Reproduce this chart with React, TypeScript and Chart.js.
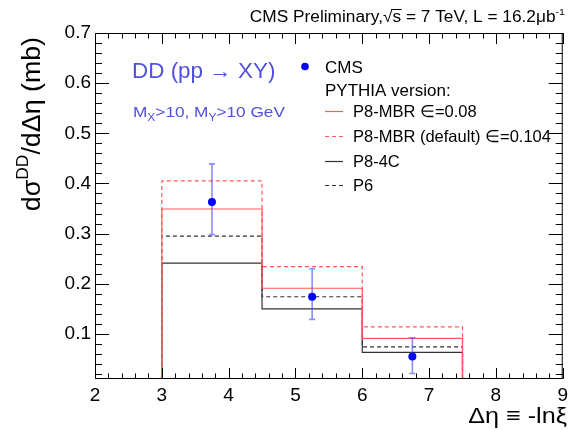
import React, { useEffect, useRef } from "react";
import { Chart, registerables } from "chart.js";

Chart.register(...registerables);

// ---------------- data ----------------
const binEdges = [3, 4.5, 6, 7.5];
const cmsX = [3.75, 5.25, 6.75];
const cmsY = [0.363, 0.174, 0.055];
const cmsErrUp = [0.076, 0.056, 0.037];
const cmsErrDown = [0.065, 0.045, 0.034];
const p8mbr008 = [0.349, 0.191, 0.091];
const p8mbrDefault = [0.405, 0.234, 0.114];
const p84c = [0.241, 0.15, 0.063];
const p6 = [0.295, 0.174, 0.074];
const xTickLabels = [2, 3, 4, 5, 6, 7, 8, 9];
const yTickLabels = [0.1, 0.2, 0.3, 0.4, 0.5, 0.6, 0.7];
const xRange = [2, 9];
const yRange = [0.01, 0.7];

const FONT = "'Liberation Sans', Arial, Helvetica, sans-serif";
const BLUE_TEXT = "#5050e0";

function histPoints(vals: number[]) {
  const pts: { x: number; y: number }[] = [{ x: binEdges[0], y: yRange[0] }];
  vals.forEach((v, i) => {
    pts.push({ x: binEdges[i], y: v });
    pts.push({ x: binEdges[i + 1], y: v });
  });
  pts.push({ x: binEdges[binEdges.length - 1], y: yRange[0] });
  return pts;
}

type Seg = { t: string; size?: number; dy?: number; over?: boolean };

function drawRich(
  ctx: CanvasRenderingContext2D,
  segs: Seg[],
  x: number,
  y: number,
  base: number,
  align: "left" | "right",
  color: string,
  sx = 1
) {
  const widths = segs.map((s) => {
    ctx.font = `${(s.size ?? 1) * base}px ${FONT}`;
    return ctx.measureText(s.t).width;
  });
  const total = widths.reduce((a, b) => a + b, 0) * sx;
  const startX = align === "right" ? x - total : x;
  ctx.save();
  ctx.translate(startX, y);
  ctx.scale(sx, 1);
  ctx.fillStyle = color;
  ctx.strokeStyle = color;
  ctx.textAlign = "left";
  ctx.textBaseline = "alphabetic";
  let pos = 0;
  segs.forEach((s, i) => {
    const sz = (s.size ?? 1) * base;
    ctx.font = `${sz}px ${FONT}`;
    const dy = (s.dy ?? 0) * base;
    ctx.fillText(s.t, pos, dy);
    if (s.over) {
      ctx.lineWidth = 1;
      ctx.beginPath();
      ctx.moveTo(pos - 1, dy - sz * 0.78);
      ctx.lineTo(pos + widths[i] + 0.5, dy - sz * 0.78);
      ctx.stroke();
    }
    pos += widths[i];
  });
  ctx.restore();
}

const errorBarPlugin = {
  id: "errorBars",
  beforeDatasetDraw(chart: any, args: any) {
    if (args.index !== 0) return;
    const { ctx, scales } = chart;
    const xs = scales.x;
    const ys = scales.y;
    ctx.save();
    ctx.strokeStyle = "rgba(80,80,255,0.65)";
    ctx.lineWidth = 1.6;
    cmsX.forEach((xv, i) => {
      const px = xs.getPixelForValue(xv);
      const pt = ys.getPixelForValue(cmsY[i] + cmsErrUp[i]);
      const pb = ys.getPixelForValue(cmsY[i] - cmsErrDown[i]);
      ctx.beginPath();
      ctx.moveTo(px, pt);
      ctx.lineTo(px, pb);
      ctx.moveTo(px - 3, pt);
      ctx.lineTo(px + 3, pt);
      ctx.moveTo(px - 3, pb);
      ctx.lineTo(px + 3, pb);
      ctx.stroke();
    });
    ctx.restore();
  },
};

const framePlugin = {
  id: "frameTicks",
  afterDatasetsDraw(chart: any) {
    const { ctx, chartArea, scales } = chart;
    const { left, right, top, bottom } = chartArea;
    const xs = scales.x;
    const ys = scales.y;
    ctx.save();
    ctx.strokeStyle = "#000";
    ctx.lineWidth = 1;
    ctx.strokeRect(left + 0.5, top + 0.5, right - left - 1, bottom - top - 1);
    ctx.beginPath();
    for (let i = 0; i <= 35; i++) {
      const v = xRange[0] + i * 0.2;
      const len = i % 5 === 0 ? 11 : 5.5;
      const px = Math.round(xs.getPixelForValue(v)) + 0.5;
      ctx.moveTo(px, bottom);
      ctx.lineTo(px, bottom - len);
      ctx.moveTo(px, top);
      ctx.lineTo(px, top + len);
    }
    for (let i = 1; i <= 35; i++) {
      const v = i * 0.02;
      const len = i % 5 === 0 ? 14 : 7;
      const py = Math.round(ys.getPixelForValue(v)) + 0.5;
      ctx.moveTo(left, py);
      ctx.lineTo(left + len, py);
      ctx.moveTo(right, py);
      ctx.lineTo(right - len, py);
    }
    ctx.stroke();
    ctx.restore();
  },
};

const textPlugin = {
  id: "texts",
  afterDraw(chart: any) {
    const { ctx } = chart;
    const ds = chart.data.datasets;
    // header
    drawRich(
      ctx,
      [
        { t: "CMS Preliminary," },
        { t: "√" },
        { t: "s", over: true },
        { t: " = 7 TeV, L = 16.2μb" },
        { t: "-1", size: 0.62, dy: -0.42 },
      ],
      565,
      22,
      16,
      "right",
      "#000",
      1.08
    );
    // DD label
    drawRich(ctx, [{ t: "DD (pp → XY)" }], 132, 78, 22, "left", BLUE_TEXT, 1.02);
    drawRich(
      ctx,
      [
        { t: "M" },
        { t: "X", size: 0.7, dy: 0.28 },
        { t: ">10, M" },
        { t: "Y", size: 0.7, dy: 0.28 },
        { t: ">10 GeV" },
      ],
      133,
      117,
      15.5,
      "left",
      BLUE_TEXT,
      1.11
    );

    // legend
    const lx = 325;
    ctx.save();
    ctx.fillStyle = "#0000ff";
    ctx.beginPath();
    ctx.arc(305, 66.5, 3.8, 0, Math.PI * 2);
    ctx.fill();
    ctx.restore();
    drawRich(ctx, [{ t: ds[0].label }], lx, 73, 16.5, "left", "#000", 1.03);
    drawRich(ctx, [{ t: "PYTHIA version:" }], lx, 95.5, 16.5, "left", "#000", 1.03);
    const rows = [111, 136, 161, 185];
    rows.forEach((ry, i) => {
      const d = ds[i + 1];
      ctx.save();
      ctx.strokeStyle = d.borderColor;
      ctx.lineWidth = d.borderWidth;
      ctx.setLineDash(d.borderDash || []);
      ctx.beginPath();
      ctx.moveTo(lx, ry + 0.5);
      ctx.lineTo(lx + 18, ry + 0.5);
      ctx.stroke();
      ctx.restore();
      drawRich(ctx, [{ t: d.label }], 353, ry + 6, 16.5, "left", "#000", 1.0);
    });

    // y title
    ctx.save();
    ctx.translate(40, 37);
    ctx.rotate(-Math.PI / 2);
    drawRich(
      ctx,
      [
        { t: "dσ" },
        { t: "DD", size: 0.65, dy: -0.45 },
        { t: "/dΔη (mb)" },
      ],
      0,
      0,
      26,
      "right",
      "#000",
      1.03
    );
    ctx.restore();

    // x title
    drawRich(ctx, [{ t: "Δη ≡ -lnξ" }], 567, 423, 22.5, "right", "#000", 1.12);
  },
};

export default function App() {
  const ref = useRef<HTMLCanvasElement | null>(null);
  useEffect(() => {
    document.body.style.margin = "0";
    const canvas = ref.current;
    if (!canvas) return;
    const histStyle = { showLine: true, pointRadius: 0, fill: false, borderWidth: 1.2 };
    const chart = new Chart(canvas, {
      type: "scatter",
      data: {
        datasets: [
          {
            label: "CMS",
            data: cmsX.map((x, i) => ({ x, y: cmsY[i] })),
            pointRadius: 4,
            pointBackgroundColor: "#0000ff",
            pointBorderColor: "#0000ff",
            pointBorderWidth: 0,
            showLine: false,
          },
          {
            label: "P8-MBR ∈=0.08",
            data: histPoints(p8mbr008),
            borderColor: "#ff5a5a",
            ...histStyle,
          },
          {
            label: "P8-MBR (default) ∈=0.104",
            data: histPoints(p8mbrDefault),
            borderColor: "#ff5a5a",
            borderDash: [4, 3],
            ...histStyle,
          },
          {
            label: "P8-4C",
            data: histPoints(p84c),
            borderColor: "#333333",
            ...histStyle,
          },
          {
            label: "P6",
            data: histPoints(p6),
            borderColor: "#333333",
            borderDash: [4, 3],
            ...histStyle,
          },
        ] as any,
      },
      options: {
        animation: false,
        responsive: false,
        maintainAspectRatio: false,
        devicePixelRatio: 1,
        layout: { padding: { top: 33, right: 7, left: 0, bottom: 0 } },
        plugins: { legend: { display: false }, tooltip: { enabled: false } },
        scales: {
          x: {
            type: "linear",
            min: xRange[0],
            max: xRange[1],
            grid: { display: false, drawTicks: false },
            border: { display: false },
            ticks: {
              font: { family: FONT, size: 19 },
              color: "#000",
              padding: 5,
              maxRotation: 0,
              autoSkip: false,
              callback: (v: any) => String(v),
            },
            afterBuildTicks: (s: any) => {
              s.ticks = xTickLabels.map((v) => ({ value: v }));
            },
            afterFit: (s: any) => {
              s.height = 51;
            },
          },
          y: {
            type: "linear",
            min: yRange[0],
            max: yRange[1],
            grid: { display: false, drawTicks: false },
            border: { display: false },
            ticks: {
              font: { family: FONT, size: 19 },
              color: "#000",
              padding: 4,
              autoSkip: false,
              callback: (v: any) => Number(v).toFixed(1),
            },
            afterBuildTicks: (s: any) => {
              s.ticks = yTickLabels.map((v) => ({ value: v }));
            },
            afterFit: (s: any) => {
              s.width = 95;
            },
          },
        },
      } as any,
      plugins: [errorBarPlugin, framePlugin, textPlugin],
    });
    return () => chart.destroy();
  }, []);
  return (
    <canvas
      ref={ref}
      width={573}
      height={430}
      style={{ display: "block", width: 573, height: 430 }}
    />
  );
}
